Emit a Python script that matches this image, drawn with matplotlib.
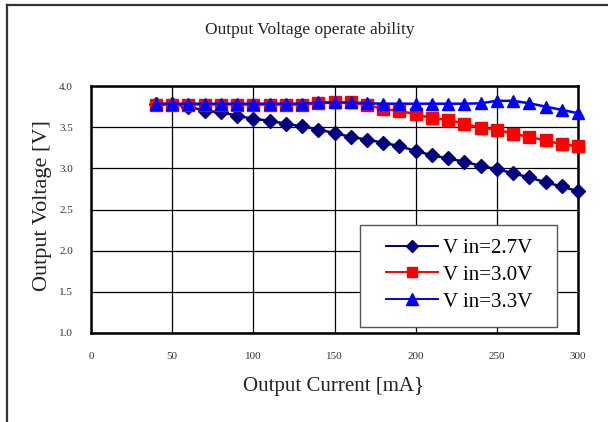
import matplotlib
matplotlib.use('Agg')
import matplotlib.pyplot as plt
from matplotlib.lines import Line2D
from matplotlib.patches import Rectangle

# output current [mA]
current = [40, 50, 60, 70, 80, 90, 100, 110, 120, 130, 140, 150, 160, 170,
           180, 190, 200, 210, 220, 230, 240, 250, 260, 270, 280, 290, 300]

vin_27 = [3.78, 3.78, 3.75, 3.70, 3.68, 3.64, 3.60, 3.58, 3.54, 3.51, 3.47,
          3.43, 3.38, 3.35, 3.31, 3.27, 3.21, 3.16, 3.12, 3.08, 3.03, 2.99,
          2.94, 2.89, 2.83, 2.78, 2.72]
vin_30 = [3.775, 3.775, 3.775, 3.775, 3.775, 3.775, 3.775, 3.775, 3.775, 3.775,
          3.79, 3.80, 3.80, 3.77, 3.72, 3.70, 3.655, 3.61, 3.59, 3.54, 3.495,
          3.47, 3.42, 3.38, 3.34, 3.29, 3.27]
vin_33 = [3.785, 3.785, 3.785, 3.785, 3.785, 3.785, 3.785, 3.785, 3.785, 3.785,
          3.80, 3.80, 3.80, 3.79, 3.785, 3.785, 3.785, 3.785, 3.785, 3.785,
          3.79, 3.82, 3.82, 3.79, 3.75, 3.71, 3.67]

labels = ['V in=2.7V', 'V in=3.0V', 'V in=3.3V']
x_ticks = [0, 50, 100, 150, 200, 250, 300]
y_ticks = [1.0, 1.5, 2.0, 2.5, 3.0, 3.5, 4.0]

W, H = 608, 422
fig = plt.figure(figsize=(W / 100, H / 100), dpi=100, facecolor='white')

def fx(px):
    return px / W

def fy(py):
    return 1 - py / H

# outer chart-area frame (only top and left edges show in the crop)
fig.add_artist(Line2D([fx(7), fx(W + 5)], [fy(5), fy(5)], color='#333333', lw=1.6))
fig.add_artist(Line2D([fx(7), fx(7)], [fy(5), fy(H + 5)], color='#333333', lw=1.6))

ax = fig.add_axes([fx(91), fy(333), fx(578) - fx(91), fy(86) - fy(333)])
ax.set_xlim(0, 300)
ax.set_ylim(1.0, 4.0)
ax.set_xticks(x_ticks)
ax.set_yticks(y_ticks)
ax.set_yticklabels([f'{v:.1f}' for v in y_ticks])
ax.grid(True, color='black', lw=0.9)
ax.set_axisbelow(True)
for s in ax.spines.values():
    s.set_linewidth(1.8)
    s.set_color('black')
ax.tick_params(length=0, labelsize=8, colors='#333333')
ax.tick_params(axis='y', pad=13)
ax.tick_params(axis='x', pad=14)
for t in ax.get_xticklabels() + ax.get_yticklabels():
    t.set_fontfamily('Liberation Serif')

ax.plot(current, vin_27, color='#000080', marker='D', ms=7.5, lw=1.8,
        label=labels[0], clip_on=False, zorder=3)
ax.plot(current, vin_30, color='#FF0000', marker='s', ms=9, lw=1.8,
        label=labels[1], clip_on=False, zorder=4)
ax.plot(current, vin_33, color='#0000FF', marker='^', ms=9, lw=1.8,
        label=labels[2], clip_on=False, zorder=5)

# legend box
fig.add_artist(Rectangle((fx(360), fy(327)), fx(557) - fx(360), fy(225) - fy(327),
                         transform=fig.transFigure, facecolor='white',
                         edgecolor='#555555', lw=1.0, zorder=6))
handles = [
    Line2D([], [], color='#000080', marker='D', ms=6.3, lw=1.4),
    Line2D([], [], color='#FF0000', marker='s', ms=7.5, lw=1.4),
    Line2D([], [], color='#0000FF', marker='^', ms=8, lw=1.4),
]
leg = fig.legend(handles, labels, loc='center', bbox_to_anchor=(fx(459), fy(275)),
                 frameon=False, borderpad=0, borderaxespad=0,
                 prop={'family': 'Liberation Serif', 'size': 15},
                 handlelength=2.5, labelspacing=0.35, handletextpad=0.25)
leg.set_zorder(7)

fig.text(fx(310), fy(30), 'Output Voltage operate ability', ha='center', va='center',
         family='Liberation Serif', fontsize=12.5, color='#222222')
fig.text(fx(334), fy(386), 'Output Current [mA}', ha='center', va='center',
         family='Liberation Serif', fontsize=15, color='#222222')
fig.text(fx(42), fy(206), 'Output Voltage [V]', ha='center', va='center', rotation=90,
         family='Liberation Serif', fontsize=16, color='#222222')

fig.savefig('out.png', dpi=100, facecolor='white')
